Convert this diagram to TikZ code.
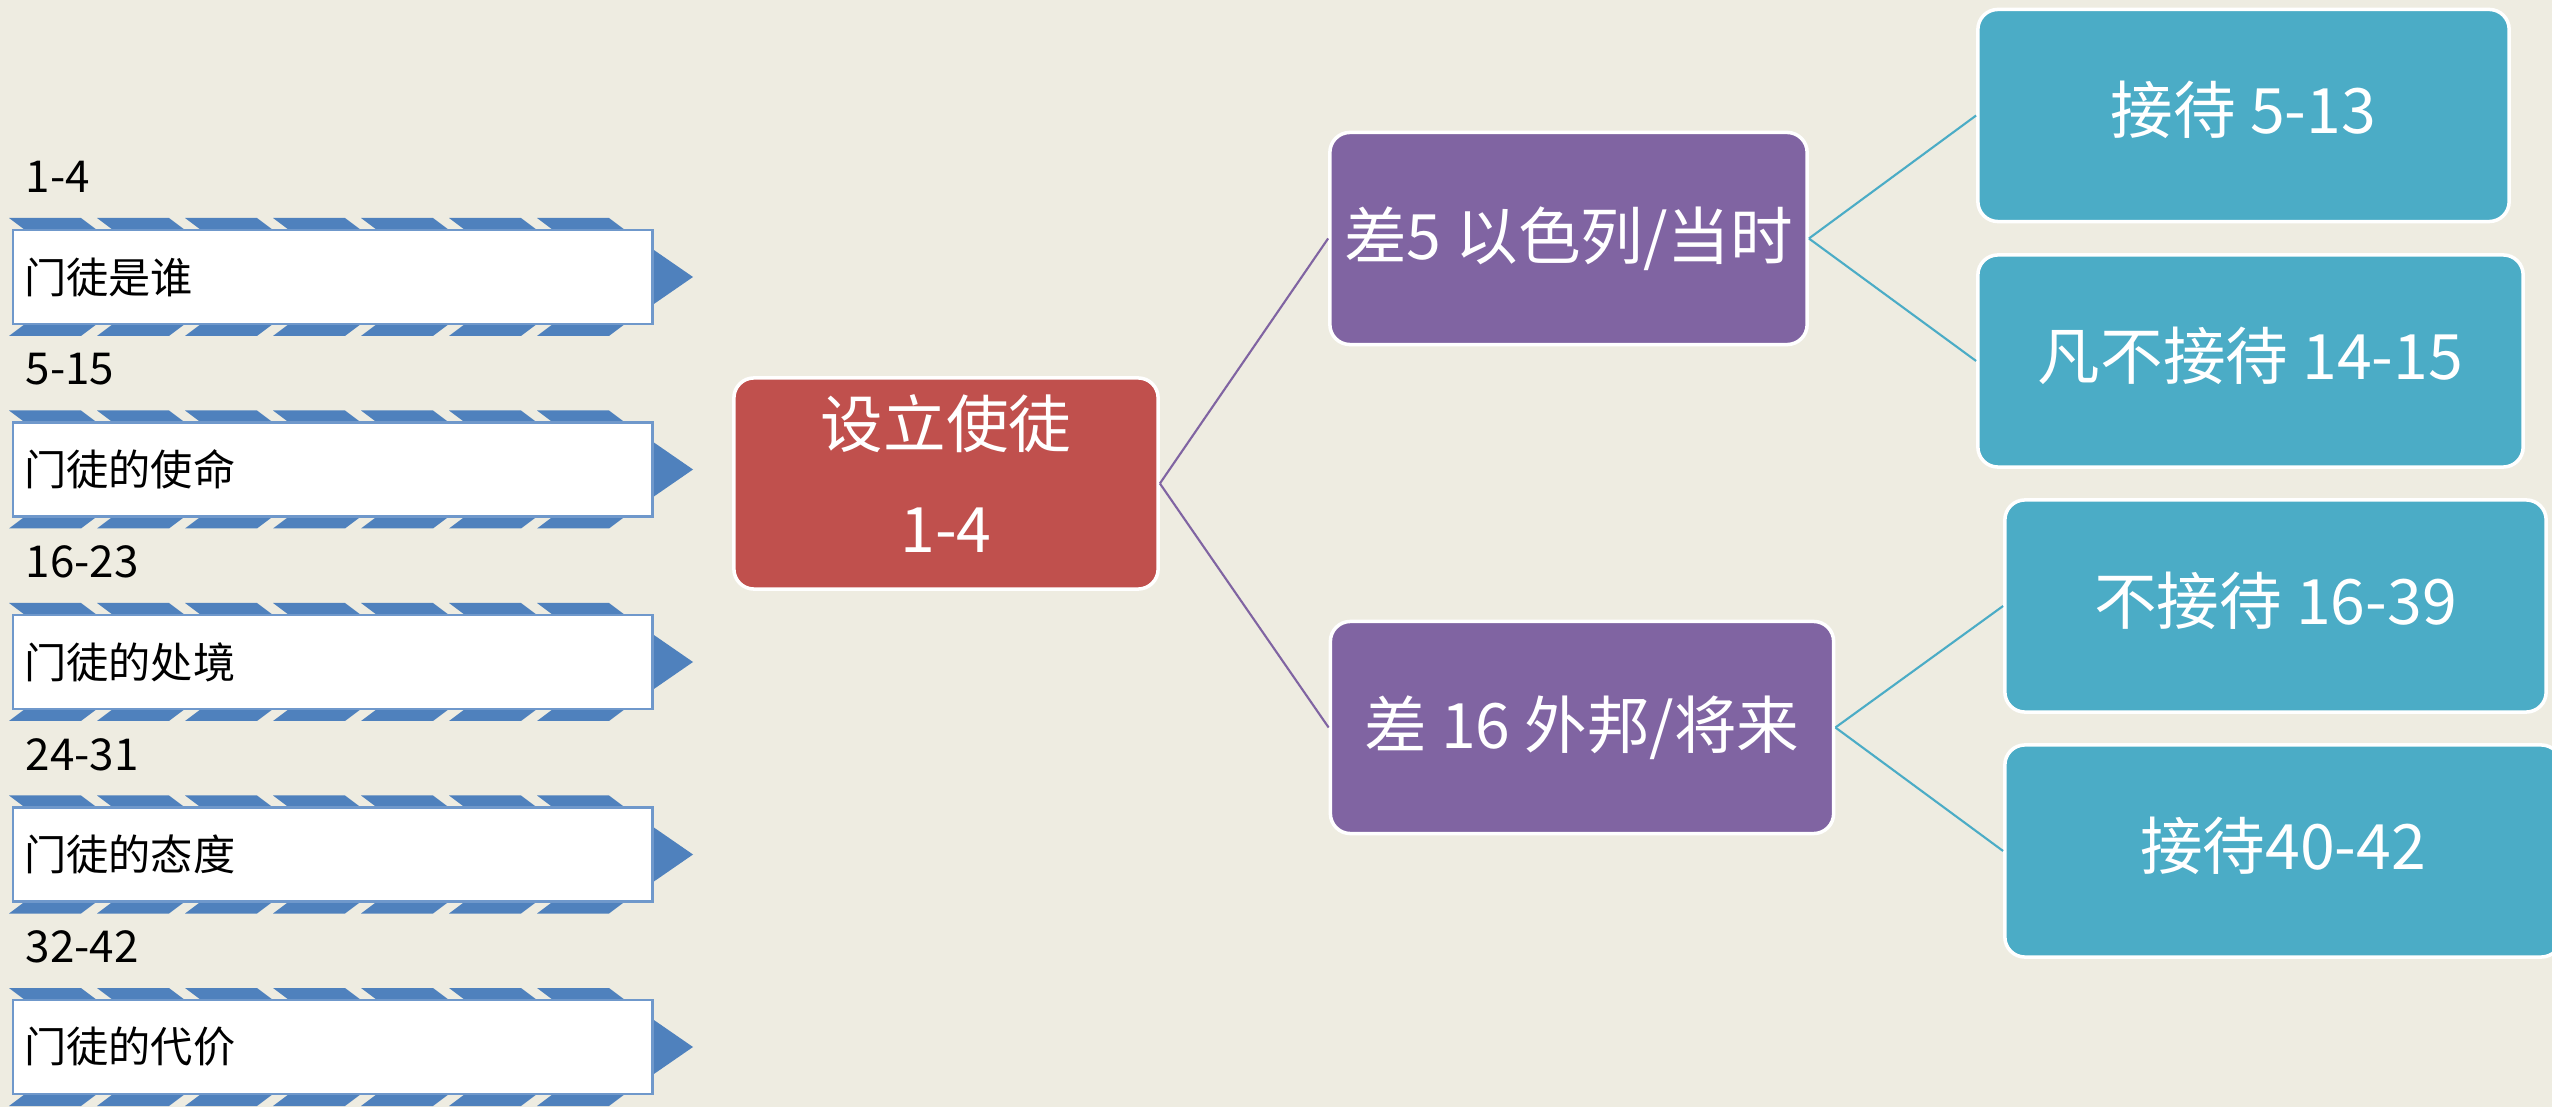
\documentclass[tikz,border=0pt]{standalone}
\usepackage{fontspec}
\setmainfont{Noto Sans CJK SC}
\definecolor{bgcolor}{HTML}{EEECE1}
\definecolor{stripeblue}{HTML}{4F81BD}
\definecolor{boxline}{HTML}{6F98CB}
\definecolor{redfill}{HTML}{C0504D}
\definecolor{purplefill}{HTML}{8064A2}
\definecolor{tealfill}{HTML}{4BACC6}
\tikzset{
  cbox/.style={rounded corners=0.2cm, draw=white, line width=1pt, text=white,
    font=\fontsize{17.8}{30}\selectfont, align=center, inner sep=0pt},
  redbox/.style={cbox, fill=redfill, minimum width=4.24cm, minimum height=2.11cm},
  purplebox/.style={cbox, fill=purplefill, minimum height=2.12cm},
  tealbox/.style={cbox, fill=tealfill, minimum height=2.12cm, text depth=0.155cm},
  bannerbox/.style={draw=boxline, fill=white, line width=0.7pt, anchor=west,
    minimum height=0.94cm, text width=6.17cm, inner xsep=0.11cm, align=left,
    font=\fontsize{12}{15}\selectfont},
  numlabel/.style={anchor=west, inner sep=0pt, font=\fontsize{12.5}{15}\selectfont},
  purpleline/.style={draw=purplefill, line width=0.6pt},
  tealline/.style={draw=tealfill, line width=0.6pt}
}
\begin{document}
\begin{tikzpicture}[x=0.01cm, y=-0.01cm]
  \useasboundingbox (0,0) rectangle (2552,1107);
  \fill[bgcolor] (0,0) rectangle (2552,1107); %背景

  \foreach \c in {277,469.5,662,854.5,1047} {
    \foreach \j [evaluate=\j as \a using 9+88*\j] in {0,...,6} {
      \fill[stripeblue] (\a,\c-59) -- (\a+72,\c-59) -- (\a+88,\c-47) -- (\a+16,\c-47) -- cycle; %上の縞
      \fill[stripeblue] (\a+16,\c+47) -- (\a+88,\c+47) -- (\a+72,\c+59) -- (\a,\c+59) -- cycle; %下の縞
    }
    \fill[stripeblue] (651,\c-29) -- (693,\c) -- (651,\c+29) -- cycle; %右の矢印
  }

  \node[bannerbox] (who) at (12,277) {门徒是谁};
  \node[bannerbox] (mission) at (12,469.5) {门徒的使命};
  \node[bannerbox] (plight) at (12,662) {门徒的处境};
  \node[bannerbox] (attitude) at (12,854.5) {门徒的态度};
  \node[bannerbox] (cost) at (12,1047) {门徒的代价}; %左の帯

  \node[numlabel] (whonum) at (25,177) {1-4};
  \node[numlabel] (missionnum) at (25,369.5) {5-15};
  \node[numlabel] (plightnum) at (25,562) {16-23};
  \node[numlabel] (attitudenum) at (25,754.5) {24-31};
  \node[numlabel] (costnum) at (25,947) {32-42}; %節の番号

  \node[redbox] (setup) at (946,483.5) {设立使徒\\1-4\rule[-5.7pt]{0pt}{5.7pt}}; %中央の箱

  \node[purplebox, minimum width=4.77cm] (israel) at (1568.5,238.5) {差5 以色列/当时};
  \node[purplebox, minimum width=5.03cm] (gentile) at (1582,727.5) {差 16 外邦/将来}; %紫の箱

  \node[tealbox, minimum width=5.31cm] (recv1) at (2243.5,115.5) {接待 5-13};
  \node[tealbox, minimum width=5.45cm] (norecv1) at (2250.5,361) {凡不接待 14-15};
  \node[tealbox, minimum width=5.41cm] (norecv2) at (2275.5,606) {不接待 16-39};
  \node[tealbox, minimum width=5.56cm] (recv2) at (2283,851) {接待40-42}; %右の箱

  \draw[purpleline] (setup.east) -- (israel.west);
  \draw[purpleline] (setup.east) -- (gentile.west);
  \draw[tealline] (israel.east) -- (recv1.west);
  \draw[tealline] (israel.east) -- (norecv1.west);
  \draw[tealline] (gentile.east) -- (norecv2.west);
  \draw[tealline] (gentile.east) -- (recv2.west); %線
\end{tikzpicture}
\end{document}
